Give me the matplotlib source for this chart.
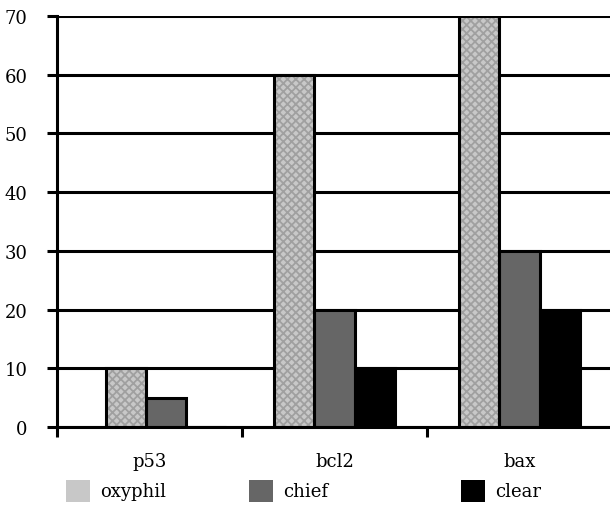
import matplotlib
matplotlib.use("Agg")
import matplotlib.pyplot as plt
from matplotlib.patches import Rectangle
import numpy as np

categories = ["p53", "bcl2", "bax"]
series_names = ["oxyphil", "chief", "clear"]
oxyphil = [10, 60, 70]
chief = [5, 20, 30]
clear = [0, 10, 20]
yticks = [0, 10, 20, 30, 40, 50, 60, 70]

# layout (not data)
group_shift = [0.09, 0.0, 0.0]
bar_w = 0.217
fills = ["#c8c8c8", "#666666", "#000000"]
legend_x = [66, 249, 461]

plt.rcParams['font.family'] = ['DejaVu Serif']
plt.rcParams['hatch.linewidth'] = 1.3
plt.rcParams['hatch.color'] = '#a0a0a0'

W, H = 610, 506
fig = plt.figure(figsize=(W / 100, H / 100), dpi=100)
ax = fig.add_axes([57 / W, 1 - 428 / H, 555 / W, 411 / H])

x = np.arange(len(categories)) + np.array(group_shift)
series = [oxyphil, chief, clear]
for i, vals in enumerate(series):
    xs = x + (i - 1) * bar_w
    if i == 0:
        ax.bar(xs, vals, width=bar_w, color=fills[i], hatch='xxxx',
               edgecolor='#a0a0a0', linewidth=0, zorder=3)
        ax.bar(xs, vals, width=bar_w, fill=False, edgecolor='black',
               linewidth=2.2, zorder=4)
    else:
        ax.bar(xs, vals, width=bar_w, color=fills[i], edgecolor='black',
               linewidth=2.2, zorder=3)

ax.set_xlim(-0.5, 2.5)
ax.set_ylim(0, 70)
ax.set_yticks(yticks)
ax.set_yticklabels([str(v) for v in yticks])
ax.yaxis.grid(True, color='black', linewidth=2.2, zorder=1)
ax.set_axisbelow(True)
ax.set_xticks([-0.5, 0.5, 1.5, 2.5])
ax.set_xticklabels([])
ax.set_xticks(np.arange(len(categories)), minor=True)
ax.set_xticklabels(categories, minor=True)
ax.tick_params(axis='x', which='major', length=7, width=2.2, direction='out')
ax.tick_params(axis='x', which='minor', length=0, pad=18, labelsize=13)
ax.tick_params(axis='y', length=7, width=2.2, direction='out', pad=14, labelsize=13)

for s in ['top', 'right']:
    ax.spines[s].set_visible(False)
ax.spines['left'].set_linewidth(2.2)
ax.spines['bottom'].set_linewidth(2.2)
for s in ['left', 'bottom']:
    ax.spines[s].set_zorder(5)

for name, fc, lx in zip(series_names, fills, legend_x):
    fig.patches.append(Rectangle((lx / W, 1 - 503 / H), 24 / W, 22 / H,
                                 transform=fig.transFigure, facecolor=fc,
                                 edgecolor='none'))
    fig.text((lx + 34) / W, 1 - 492 / H, name, fontsize=13,
             va='center', ha='left')

fig.savefig("out.png", dpi=100)
